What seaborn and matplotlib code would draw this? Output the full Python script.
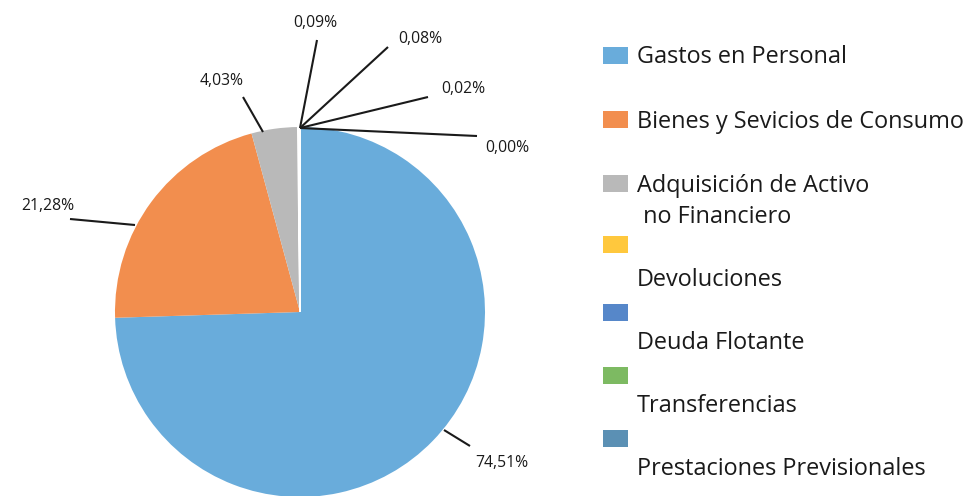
import matplotlib
matplotlib.use("Agg")
import matplotlib.pyplot as plt
from matplotlib.patches import Rectangle
import seaborn as sns

categories = ["Gastos en Personal", "Bienes y Sevicios de Consumo",
              "Adquisición de Activo\n no Financiero", "Devoluciones",
              "Deuda Flotante", "Transferencias", "Prestaciones Previsionales"]
values = [74.51, 21.28, 4.03, 0.09, 0.08, 0.02, 0.00]
pct_labels = ["74,51%", "21,28%", "4,03%", "0,09%", "0,08%", "0,02%", "0,00%"]
colors = ["#69ACDB", "#F28E4E", "#B9B9B9", "#FFC83D", "#5687C9", "#7DBA62", "#5B90B4"]

sns.set_theme(style="white")
plt.rcParams["font.family"] = ["Open Sans", "DejaVu Sans"]

W, H = 967, 496
fig = plt.figure(figsize=(W / 100, H / 100), dpi=100)
ax = fig.add_axes([0, 0, 1, 1])

cx, cy, r = 300, H - 312, 185
wedges, _ = ax.pie(values, colors=colors, startangle=90, counterclock=False,
                   center=(cx, cy), radius=r, frame=True,
                   wedgeprops=dict(edgecolor="none", linewidth=0))
for w in wedges[3:]:
    w.set_edgecolor("white")
    w.set_linewidth(1.2)
ax.set_xlim(0, W)
ax.set_ylim(0, H)
ax.set_aspect("equal")
ax.axis("off")

# leader lines (pixel layout: start, end) and label positions
leaders = [((444, 430), (470, 446)), ((135, 225), (70, 219)), ((263, 132), (243, 97)),
           ((300, 128), (317, 40)), ((300, 128), (388, 47)), ((300, 128), (428, 97)),
           ((300, 128), (477, 136))]
label_pos = [(502, 463), (48, 206), (222, 81), (315, 23), (420, 39), (463, 89), (507, 148)]
for (p0, p1), (lx, ly), txt in zip(leaders, label_pos, pct_labels):
    ax.plot([p0[0], p1[0]], [H - p0[1], H - p1[1]], color="#1a1a1a", lw=1.5,
            solid_capstyle="butt")
    ax.text(lx, H - ly, txt, ha="center", va="center", fontsize=11.3, color="#1a1a1a")

# legend
sq_y = [55.5, 119, 183, 244, 312, 375, 438]
txt_y = [57, 122, 186, 280, 343, 406, 469]
fs = 16.9
for c, sy, ty, lab in zip(colors, sq_y, txt_y, categories):
    ax.add_patch(Rectangle((603, H - sy - 8.5), 25, 17, facecolor=c, edgecolor="none"))
    if "\n" in lab:
        first, second = lab.split("\n")
        ax.text(637, H - ty, first, ha="left", va="center", fontsize=fs, color="#1a1a1a")
        ax.text(637, H - ty - 31, second, ha="left", va="center", fontsize=fs, color="#1a1a1a")
    else:
        ax.text(637, H - ty, lab, ha="left", va="center", fontsize=fs, color="#1a1a1a")

fig.savefig("out.png", dpi=100)
